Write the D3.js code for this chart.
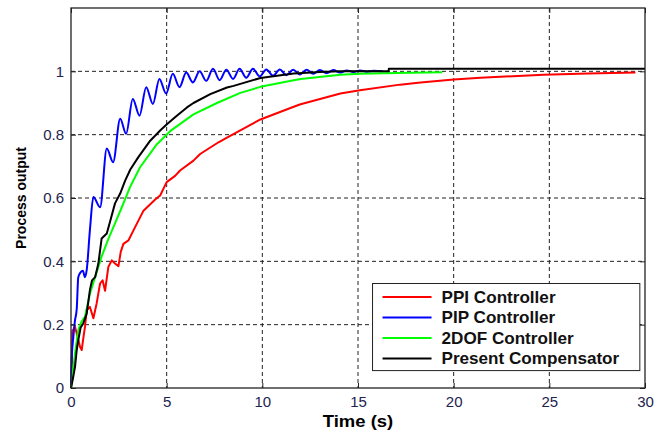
<!DOCTYPE html>
<html>
<head>
<meta charset="utf-8">
<script src="https://cdn.jsdelivr.net/npm/d3@7"></script>
<style>
  body { margin:0; background:#fff; }
  text { font-family: "Liberation Sans", Arial, sans-serif; }
</style>
</head>
<body>
<div id="chart"></div>
<script>
// data
const timeTicks = [0,5,10,15,20,25,30]
const outputTicks = [0,0.2,0.4,0.6,0.8,1]

const seriesNames = ["PPI Controller","PIP Controller","2DOF Controller","Present Compensator"]
const seriesColors = ["#ff0000","#0000ff","#00ff00","#000000"]

// [time, output]
const ppi = [[0,0],[0.04,0.05],[0.07,0.18],[0.21,0.193],[0.35,0.16],[0.47,0.13],[0.56,0.12],[0.65,0.16],
  [0.73,0.193],[0.82,0.246],[0.99,0.256],[1.17,0.22],[1.34,0.267],[1.52,0.33],[1.65,0.34],[1.78,0.307],
  [1.95,0.382],[2.13,0.403],[2.3,0.393],[2.48,0.385],[2.6,0.43],[2.74,0.455],[3.0,0.466],[3.35,0.508],
  [3.79,0.56],[4.4,0.595],[4.66,0.608],[5.0,0.65],[5.44,0.67],[5.7,0.687],[6.4,0.718],[6.75,0.739],
  [7.71,0.776],[8.15,0.791],[9.9,0.848],[11.64,0.888],[12.0,0.896],[14.08,0.93],[15.1,0.94],[17.2,0.958],
  [18.27,0.965],[20.0,0.974],[21.4,0.98],[24.7,0.989],[27,0.993],[29.5,0.996]]

const pip = [[0,0],[0.04,0.1],[0.12,0.16],[0.2,0.21],[0.3,0.25],[0.38,0.35],[0.5,0.365],[0.62,0.37],
  [0.73,0.35],[0.82,0.372],[0.99,0.5],[1.17,0.603],[1.52,0.571],[1.87,0.756],[2.2,0.713],[2.57,0.85],
  [2.88,0.803],[3.23,0.913],[3.58,0.86],[3.93,0.95],[4.28,0.897],[4.62,0.976],[4.97,0.93],[5.32,0.992],
  [5.67,0.95],[6.02,0.996],[6.37,0.965],[6.72,1.0],[7.07,0.97],[7.42,1.008],[7.77,0.972],[8.12,1.005],
  [8.47,0.976],[8.81,1.008],[9.16,0.98],[9.51,1.008],[9.86,0.984],[10.21,1.006],[10.56,0.986],[10.91,1.006],
  [11.26,0.988],[11.61,1.005],[11.96,0.99],[12.31,1.005],[12.66,0.992],[13.01,1.004],[13.36,0.994],
  [13.71,1.004],[14.06,0.996],[14.41,1.003],[14.76,0.998],[15.11,1.003],[15.46,0.999],[15.81,1.002],[16.3,1.0]]

const twoDof = [[0,0],[0.04,0.016],[0.21,0.11],[0.38,0.183],[0.55,0.21],[0.73,0.225],[0.99,0.298],
  [1.26,0.35],[1.6,0.415],[1.95,0.47],[2.3,0.52],[2.65,0.57],[3.09,0.635],[3.61,0.697],[4.49,0.77],
  [5.18,0.811],[6.4,0.864],[7.63,0.9],[8.85,0.932],[9.9,0.951],[11.64,0.972],[12.0,0.976],[14.08,0.989],
  [15.1,0.992],[17.0,0.995],[19.4,0.997]]

const present = [[0,0],[0.1,0.03],[0.21,0.067],[0.3,0.12],[0.38,0.151],[0.5,0.19],[0.64,0.204],[0.82,0.235],
  [0.99,0.31],[1.1,0.34],[1.26,0.35],[1.43,0.393],[1.6,0.472],[1.87,0.488],[2.04,0.525],[2.3,0.583],
  [2.57,0.614],[2.83,0.655],[3.1,0.69],[3.52,0.729],[4.14,0.781],[4.66,0.813],[5.01,0.833],[5.5,0.858],
  [6.06,0.886],[6.4,0.9],[7.28,0.928],[8.15,0.949],[8.5,0.954],[9.9,0.979],[11.64,0.993],[13,0.998],
  [14.08,1.0],[16.6,1.0],[16.61,1.008],[30,1.008]]

const allSeries = [ppi,pip,twoDof,present]

const W = 667, H = 432
const margin = {top:8,right:22,bottom:44,left:71}
const width = W - margin.left - margin.right
const height = H - margin.top - margin.bottom

const svg = d3.select("#chart")
  .append("svg")
  .attr("width",W)
  .attr("height",H)

const g = svg.append("g")
  .attr("transform",`translate(${margin.left},${margin.top})`)

// scales
const x = d3.scaleLinear().domain([0,30]).range([0,width])
const y = d3.scaleLinear().domain([0,1.2]).range([height,0])

// grid (dashed, matlab style)
g.append("g")
  .selectAll("line")
  .data(timeTicks.slice(1,-1))
  .join("line")
  .attr("x1",d=>x(d)).attr("x2",d=>x(d))
  .attr("y1",0).attr("y2",height)
  .attr("stroke","#222").attr("stroke-dasharray","4,3")

g.append("g")
  .selectAll("line")
  .data(outputTicks.slice(1))
  .join("line")
  .attr("y1",d=>y(d)).attr("y2",d=>y(d))
  .attr("x1",0).attr("x2",width)
  .attr("stroke","#222").attr("stroke-dasharray","4,3")

// lines
const line = d3.line()
  .x(d=>x(d[0]))
  .y(d=>y(d[1]))

g.selectAll(".series")
  .data(allSeries)
  .join("path")
  .attr("class","series")
  .attr("fill","none")
  .attr("stroke",(d,i)=>seriesColors[i])
  .attr("stroke-width",2)
  .attr("stroke-linejoin","round")
  .attr("d",(d,i)=> i==1 ? line.curve(d3.curveMonotoneX)(d) : line.curve(d3.curveLinear)(d))

// axes
g.append("g")
  .attr("transform",`translate(0,${height})`)
  .call(d3.axisBottom(x).tickValues(timeTicks).tickSizeInner(-5).tickSizeOuter(0).tickPadding(8))
g.append("g")
  .call(d3.axisLeft(y).tickValues(outputTicks).tickFormat(d3.format("")).tickSizeInner(-5).tickSizeOuter(0).tickPadding(7))
g.append("g")
  .call(d3.axisTop(x).tickValues(timeTicks).tickFormat("").tickSizeInner(-5).tickSizeOuter(0))
g.append("g")
  .attr("transform",`translate(${width},0)`)
  .call(d3.axisRight(y).tickValues(outputTicks).tickFormat("").tickSizeInner(-5).tickSizeOuter(0))

g.selectAll(".domain").remove()
g.selectAll(".tick line").attr("stroke","#222")
g.selectAll(".tick text")
  .attr("fill","#23234f")
  .style("font-size","15px")

// frame
g.append("rect")
  .attr("width",width).attr("height",height)
  .attr("fill","none").attr("stroke","#222").attr("stroke-width",1.3)

// axis titles (source font is a bit wider than Arial, so stretch a little)
svg.append("text")
  .attr("transform",`translate(${margin.left + x(15)},427) scale(1.12,1)`)
  .attr("text-anchor","middle")
  .style("font-size","16.5px").style("font-weight","bold")
  .text("Time (s)")

svg.append("text")
  .attr("transform",`translate(26,${margin.top + y(0.6)}) rotate(-90)`)
  .attr("text-anchor","middle")
  .style("font-size","14px").style("font-weight","bold")
  .text("Process output")

// legend
const legend = g.append("g")
  .attr("transform",`translate(${x(15.76)},${y(0.33)})`)

legend.append("rect")
  .attr("width",x(29.73)-x(15.76))
  .attr("height",y(0)-y(0.275))
  .attr("fill","#fff").attr("stroke","#222")

const rows = legend.selectAll(".row")
  .data(seriesNames)
  .join("g")
  .attr("transform",(d,i)=>`translate(0,${13.5 + i*20.5})`)

rows.append("line")
  .attr("x1",10).attr("x2",59)
  .attr("stroke",(d,i)=>seriesColors[i]).attr("stroke-width",2)

rows.append("text")
  .attr("transform","translate(69,5.8) scale(1.07,1)")
  .style("font-size","16px").style("font-weight","bold")
  .attr("fill","#111")
  .text(d=>d)
</script>
</body>
</html>
